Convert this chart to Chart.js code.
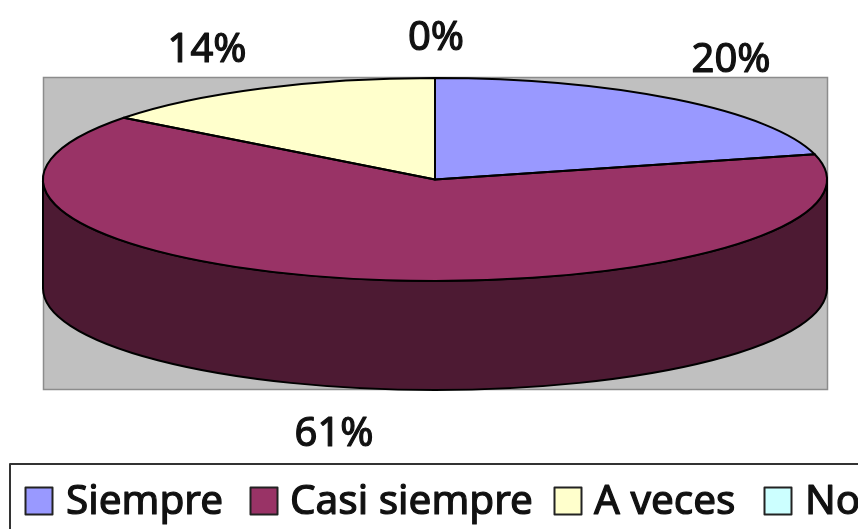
<!DOCTYPE html>
<html><head><meta charset="utf-8">
<style>html,body{margin:0;padding:0;background:#fff;overflow:hidden}canvas{display:block;filter:blur(0.45px)}</style>
<script src="https://cdn.jsdelivr.net/npm/chart.js@4/dist/chart.umd.min.js"></script>
</head><body>
<canvas id="c" width="858" height="529"></canvas>
<script>
const categories = ['Siempre', 'Casi siempre', 'A veces', 'No'];
const sliceValues = [21, 64.4, 14.6, 0];
// Percent labels as printed on the picture
const percentLabels = ['20%', '61%', '14%', '0%'];

const topColors = ['#9999ff', '#993366', '#ffffcc', '#ccffff'];
const sideColors = ['#4d4d80', '#4d1a33', '#808066', '#668080'];

const RX = 392, RY = 101.5, DEPTH = 109, CX = 435, CY = 179.5;
const TEXT_FONT = '"Noto Sans", sans-serif';

function squash(ctx, arc) {
  ctx.translate(arc.x, arc.y);
  ctx.scale(RX / arc.outerRadius, RY / arc.outerRadius);
  ctx.translate(-arc.x, -arc.y);
}
function ellipsePath(ctx, arc, start, end, dy, ccw) {
  ctx.ellipse(arc.x, arc.y + dy, RX, RY, 0, start, end, !!ccw);
}
function heavyText(ctx, text, x, y, extra) {
  ctx.lineWidth = extra;
  ctx.lineJoin = 'round';
  ctx.strokeStyle = ctx.fillStyle;
  ctx.strokeText(text, x, y);
  ctx.fillText(text, x, y);
}

const pie3d = {
  id: 'pie3d',
  beforeDatasetsDraw(chart) {
    const ctx = chart.ctx, arcs = chart.getDatasetMeta(0).data;
    // plot background
    ctx.save();
    ctx.fillStyle = '#c0c0c0';
    ctx.strokeStyle = '#8c8c8c';
    ctx.lineWidth = 1.5;
    ctx.fillRect(43.5, 77.5, 784, 312);
    ctx.strokeRect(43.5, 77.5, 784, 312);
    // side wall, only the front half of the pie shows
    ctx.lineWidth = 2;
    ctx.strokeStyle = '#000';
    arcs.forEach((arc, i) => {
      const TAU = Math.PI * 2;
      let s = arc.startAngle, e = arc.endAngle;
      for (const k of [-1, 0, 1]) {
        const a = Math.max(s, k * TAU), b = Math.min(e, k * TAU + Math.PI);
        if (b <= a) continue;
        ctx.beginPath();
        ellipsePath(ctx, arc, a, b, 0);
        ellipsePath(ctx, arc, b, a, DEPTH, true);
        ctx.closePath();
        ctx.fillStyle = sideColors[i];
        ctx.fill();
        ctx.stroke();
      }
    });
    ctx.restore();
    ctx.save();
    squash(ctx, arcs[0]);
  },
  afterDatasetsDraw(chart) {
    const ctx = chart.ctx, arcs = chart.getDatasetMeta(0).data;
    ctx.restore();
    // slice outlines with an even line width
    ctx.save();
    ctx.strokeStyle = '#000';
    ctx.lineWidth = 2;
    ctx.lineJoin = 'round';
    arcs.forEach(arc => {
      if (arc.endAngle - arc.startAngle <= 0) return;
      ctx.beginPath();
      ctx.moveTo(arc.x, arc.y);
      ellipsePath(ctx, arc, arc.startAngle, arc.endAngle, 0);
      ctx.closePath();
      ctx.stroke();
    });
    ctx.restore();
  },
  afterDraw(chart) {
    const ctx = chart.ctx;
    ctx.save();
    // percent labels
    const anchors = [[731, 72], [334, 446], [207, 62], [436, 50]];
    ctx.fillStyle = '#111';
    ctx.font = '40px ' + TEXT_FONT;
    ctx.textAlign = 'center';
    ctx.textBaseline = 'alphabetic';
    percentLabels.forEach((t, i) => heavyText(ctx, t, anchors[i][0], anchors[i][1], 1.2));
    // legend box, running off the right and bottom edges
    ctx.strokeStyle = '#333';
    ctx.lineWidth = 2;
    ctx.strokeRect(10, 464, 900, 100);
    const swatchX = [25, 250, 554, 764], textX = [66, 290, 594, 805];
    ctx.textAlign = 'left';
    ctx.font = '40.5px ' + TEXT_FONT;
    categories.forEach((name, i) => {
      ctx.fillStyle = topColors[i];
      ctx.fillRect(swatchX[i] + .5, 487.5, 27, 27);
      ctx.strokeStyle = '#222';
      ctx.lineWidth = 2;
      ctx.strokeRect(swatchX[i] + .5, 487.5, 27, 27);
      ctx.fillStyle = '#111';
      heavyText(ctx, name, textX[i], 514, 1.2);
    });
    ctx.restore();
  }
};

new Chart(document.getElementById('c'), {
  type: 'pie',
  data: {
    labels: categories,
    datasets: [{ data: sliceValues, backgroundColor: topColors, borderWidth: 0 }]
  },
  options: {
    responsive: false,
    animation: false,
    layout: { padding: { left: CX - RX, right: 858 - CX - RX, top: CY - RY, bottom: 529 - CY - RY } },
    plugins: { legend: { display: false }, tooltip: { enabled: false } }
  },
  plugins: [pie3d]
});
</script>
</body></html>
